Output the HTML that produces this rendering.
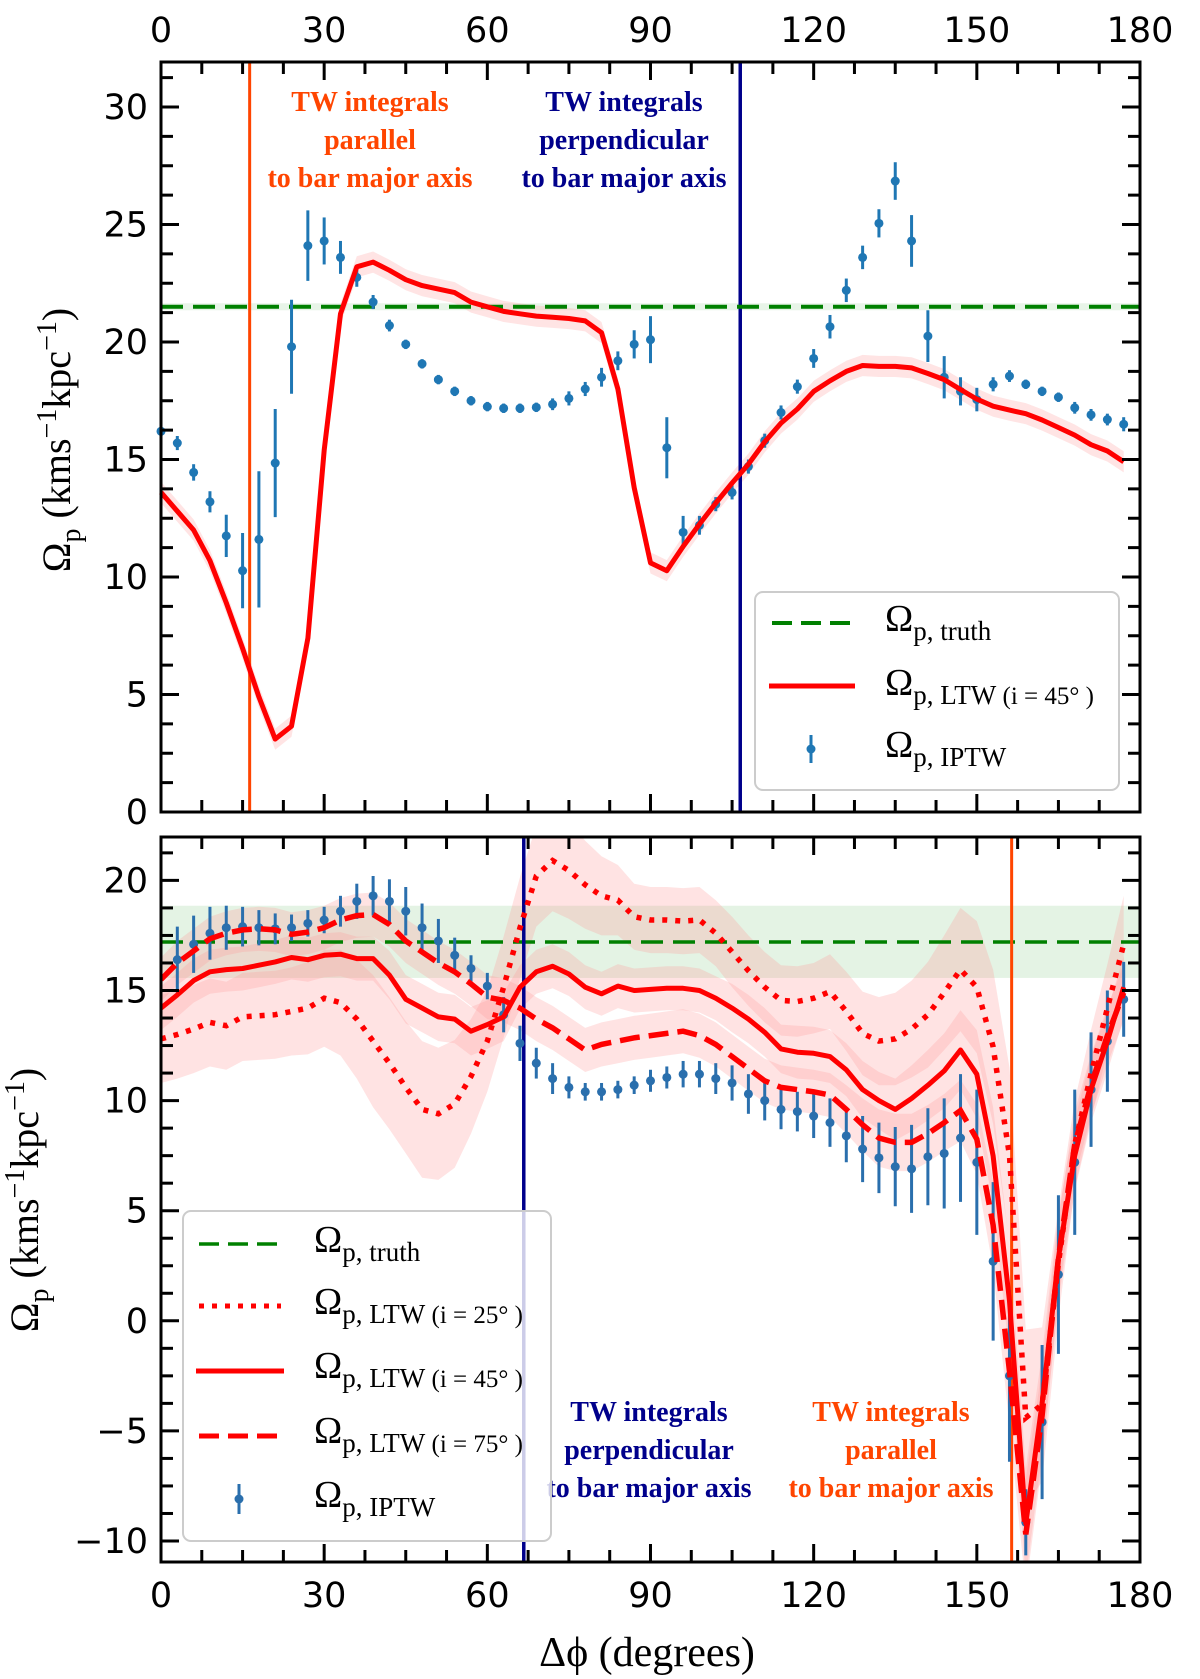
<!DOCTYPE html>
<html><head><meta charset="utf-8"><style>
html,body{margin:0;padding:0;background:#fff}
svg{display:block}
.tick{font-family:"DejaVu Sans","Liberation Sans",sans-serif;font-size:35px;fill:#000}
.serif{font-family:"Liberation Serif","DejaVu Serif",serif}
</style></head><body>
<svg id="fig" width="1200" height="1679" viewBox="0 0 1200 1679" xmlns="http://www.w3.org/2000/svg">
<defs>
<clipPath id="clipT"><rect x="156" y="62" width="984" height="750"/></clipPath>
<clipPath id="clipB"><rect x="161" y="837" width="979" height="725"/></clipPath>
</defs>
<g id="top"></g>
<g id="bot"></g>
</svg>
<script>
// ---------- data ----------
const phiTop = [0,3,6,9,12,15,18,21,24,27,30,33,36,39,42,45,48,51,54,57,60,63,66,69,72,75,78,81,84,87,90,93,96,99,102,105,108,111,114,117,120,123,126,129,132,135,138,141,144,147,150,153,156,159,162,165,168,171,174,177];
const iptwTop = [16.2,15.7,14.45,13.2,11.75,10.27,11.6,14.85,19.8,24.1,24.3,23.6,22.75,21.7,20.7,19.9,19.07,18.4,17.9,17.5,17.25,17.18,17.18,17.22,17.35,17.6,18.0,18.5,19.2,19.9,20.1,15.5,11.9,12.2,13.1,13.6,14.7,15.8,17.0,18.1,19.3,20.65,22.2,23.6,25.05,26.85,24.3,20.25,18.5,17.9,17.55,18.2,18.55,18.2,17.9,17.65,17.2,16.9,16.7,16.5];
const iptwTopErr = [0.2,0.3,0.35,0.45,0.9,1.6,2.9,2.3,2.0,1.5,1.0,0.7,0.4,0.3,0.25,0.2,0.2,0.2,0.2,0.2,0.2,0.2,0.2,0.2,0.25,0.3,0.3,0.4,0.4,0.6,1.0,1.3,0.7,0.4,0.3,0.3,0.3,0.3,0.3,0.3,0.4,0.5,0.5,0.5,0.6,0.8,1.1,1.1,0.9,0.6,0.5,0.3,0.25,0.2,0.2,0.2,0.25,0.25,0.25,0.3];
const ltwTop = [13.6,12.8,12.0,10.7,8.9,6.96,4.9,3.1,3.65,7.4,15.4,21.2,23.2,23.4,23.05,22.65,22.4,22.25,22.1,21.7,21.5,21.3,21.2,21.1,21.05,21.0,20.9,20.4,18.0,13.8,10.6,10.27,11.3,12.25,13.15,14.0,14.8,15.75,16.55,17.15,17.9,18.35,18.75,19.0,18.96,18.96,18.9,18.66,18.4,17.98,17.57,17.27,17.1,16.95,16.68,16.36,16.04,15.63,15.36,14.9];
const truthTop = 21.5;
const barParTop = 16.3, barPerpTop = 106.5;

const phiBot = phiTop;
const iptwBot = [null,16.4,17.1,17.6,17.85,17.9,17.85,17.8,17.85,18.05,18.2,18.6,19.05,19.3,19.05,18.6,17.85,17.25,16.6,16.0,15.2,13.9,12.6,11.7,11.0,10.6,10.4,10.4,10.5,10.7,10.9,11.05,11.2,11.2,11.0,10.8,10.3,10.0,9.6,9.5,9.3,9.0,8.4,7.8,7.4,7.0,6.9,7.45,7.6,8.3,7.2,2.7,-2.5,-9.15,-4.6,2.1,7.2,10.5,12.7,14.6];
const iptwBotErr = [0,1.5,1.3,1.2,1.0,0.9,0.8,0.7,0.6,0.6,0.6,0.7,0.8,0.9,1.0,1.1,1.1,1.0,0.8,0.6,0.6,0.8,0.8,0.7,0.7,0.5,0.4,0.4,0.4,0.4,0.5,0.5,0.6,0.6,0.7,0.8,0.9,0.9,0.9,0.9,1.0,1.1,1.2,1.5,1.6,1.8,2.0,2.2,2.5,2.9,3.3,3.6,3.9,1.5,3.5,3.6,3.3,2.6,2.3,1.7];
const ltw25 = [12.8,13.0,13.25,13.55,13.4,13.8,13.85,13.9,14.05,14.2,14.65,14.45,13.7,12.7,11.7,10.6,9.6,9.4,9.85,11.1,12.7,15.15,17.85,20.2,20.9,20.45,19.8,19.3,19.1,18.35,18.2,18.2,18.15,18.2,17.6,16.75,15.9,15.15,14.55,14.5,14.65,14.95,14.05,13.05,12.7,12.8,13.25,13.9,14.9,15.95,15.15,12.45,7.5,-4.4,-3.8,2.6,8.0,11.2,14.2,17.1];
const ltw25Err = [2.0,2.0,2.0,2.0,2.0,2.0,2.0,2.0,2.0,2.1,2.2,2.4,2.7,3.0,3.0,3.0,3.1,3.0,2.9,2.6,2.3,2.3,2.3,2.3,2.3,2.2,2.0,1.8,1.6,1.5,1.5,1.5,1.5,1.5,1.5,1.6,1.6,1.6,1.6,1.6,1.6,1.7,1.8,1.9,2.0,2.1,2.2,2.4,2.6,2.8,3.0,3.5,4.0,4.0,3.5,2.5,2.0,2.0,2.0,2.2];
const ltw45 = [14.2,14.8,15.45,15.85,15.95,16.0,16.15,16.3,16.5,16.4,16.6,16.65,16.45,16.45,15.7,14.6,14.2,13.8,13.7,13.15,13.45,13.8,15.15,15.85,16.1,15.75,15.15,14.85,15.2,15.0,15.05,15.1,15.1,15.0,14.65,14.2,13.7,13.1,12.35,12.2,12.15,12.0,11.4,10.5,10.0,9.6,10.1,10.7,11.35,12.3,11.2,7.5,0.9,-9.2,-3.75,2.85,7.5,10.5,12.7,15.15];
const ltw45Err = [1.0,1.0,1.0,1.0,1.0,1.0,1.0,1.0,1.0,1.0,1.0,1.0,1.0,1.0,1.1,1.1,1.1,1.1,1.1,1.1,1.1,1.1,1.0,1.0,1.0,1.0,1.0,1.0,1.0,1.0,1.0,1.0,1.0,1.0,1.0,1.1,1.1,1.1,1.1,1.2,1.2,1.2,1.2,1.3,1.3,1.4,1.5,1.6,1.7,1.8,2.0,2.2,2.5,2.5,2.3,2.0,1.6,1.5,1.4,1.4];
const ltw75 = [15.5,16.25,16.8,17.35,17.6,17.75,17.8,17.75,17.55,17.65,17.85,18.2,18.4,18.45,18.0,17.25,16.75,16.25,15.85,15.3,14.7,14.55,14.2,13.7,13.3,12.8,12.3,12.55,12.7,12.85,12.95,13.05,13.15,12.95,12.55,12.0,11.45,10.9,10.6,10.5,10.4,10.25,9.6,8.9,8.3,8.1,8.1,8.5,9.0,9.55,8.25,4.35,-2.3,-9.7,-4.3,2.85,8.0,10.7,12.95,14.9];
const ltw75Err = [1.0,1.0,1.0,1.0,1.0,1.0,1.0,1.0,1.0,1.0,1.0,1.0,1.0,1.0,1.0,1.0,1.0,1.0,1.0,1.0,1.0,1.0,1.0,1.0,1.0,1.0,1.0,1.0,1.0,1.0,1.0,1.0,1.0,1.0,1.0,1.0,1.0,1.0,1.0,1.0,1.0,1.0,1.1,1.2,1.3,1.3,1.3,1.3,1.3,1.4,1.6,2.0,2.5,2.5,2.2,1.8,1.5,1.4,1.3,1.3];
const truthBot = 17.2, truthBotLo = 15.57, truthBotHi = 18.85;
const barPerpBot = 66.7, barParBot = 156.4;
const xTicks = [0,30,60,90,120,150,180];
const yTicksTop = [0,5,10,15,20,25,30];
const yTicksBot = [-10,-5,0,5,10,15,20];

// ---------- axes ----------
const X0=161, X1=1140;
const xs = d => X0 + (d/180)*(X1-X0);
const T = {y0:812, ppu:23.5, top:62, bot:812, min:0, max:31.93};
const B = {y0:880.4, ppu:22.02, top:837, bot:1562, min:-10.95, max:22};
const yT = v => T.y0 - v*T.ppu;
const yB = v => B.y0 - (v-20)*B.ppu;
const NS='http://www.w3.org/2000/svg';
function el(tag, attrs, parent){const e=document.createElementNS(NS,tag);for(const k in attrs)e.setAttribute(k,attrs[k]);parent.appendChild(e);return e;}
function pathOf(xsArr, ys, fy){let d='';xsArr.forEach((x,i)=>{if(ys[i]===null)return;d+=(d?'L':'M')+xs(x).toFixed(1)+','+fy(ys[i]).toFixed(1);});return d;}
function bandOf(xsArr, ys, err, fy){let up='',dn=[];xsArr.forEach((x,i)=>{up+=(up?'L':'M')+xs(x).toFixed(1)+','+fy(ys[i]+err[i]).toFixed(1);dn.unshift('L'+xs(x).toFixed(1)+','+fy(ys[i]-err[i]).toFixed(1));});return up+dn.join('')+'Z';}

function frame(g, P, fy, yticks, labelTop, labelBottom){
  const r = el('rect',{x:X0,y:P.top,width:X1-X0,height:P.bot-P.top,fill:'none',stroke:'#000','stroke-width':3},g);
  
  
  for(let d=0; d<=180.01; d+=7.5){
    const maj = Math.abs(d%30)<0.01;
    const L = maj?18:12;
    el('line',{x1:xs(d),x2:xs(d),y1:P.top,y2:P.top+L,stroke:'#000','stroke-width':3},g);
    el('line',{x1:xs(d),x2:xs(d),y1:P.bot,y2:P.bot-L,stroke:'#000','stroke-width':3},g);
  }
  for(let v=Math.ceil(P.min/1.25)*1.25; v<=P.max; v+=1.25){
    const maj = Math.abs(v%5)<0.01;
    const L = maj?18:12;
    el('line',{x1:X0,x2:X0+L,y1:fy(v),y2:fy(v),stroke:'#000','stroke-width':3},g);
    el('line',{x1:X1,x2:X1-L,y1:fy(v),y2:fy(v),stroke:'#000','stroke-width':3},g);
  }
  yticks.forEach(v=>{
    const t = el('text',{x:148,y:fy(v)+12,'text-anchor':'end',class:'tick'},g);
    t.textContent = v<0 ? '\u2212'+Math.abs(v) : String(v);
    
    
  });
  xTicks.forEach(d=>{
    if(labelTop){
      const t = el('text',{x:xs(d),y:42,'text-anchor':'middle',class:'tick'},g);
      t.textContent=String(d);
      
      
    }
    if(labelBottom){
      const t = el('text',{x:xs(d),y:1607,'text-anchor':'middle',class:'tick'},g);
      t.textContent=String(d);
      
      
    }
  });
}

function errPoints(g, xsArr, ys, err, fy, color){
  xsArr.forEach((x,i)=>{
    if(ys[i]===null) return;
    const l = el('line',{x1:xs(x),x2:xs(x),y1:fy(ys[i]-err[i]),y2:fy(ys[i]+err[i]),stroke:color,'stroke-width':3},g);
    
    
    const c = el('circle',{cx:xs(x),cy:fy(ys[i]),r:4.5,fill:color},g);
    
    
  });
}

function textBlock(g, cx, ys, lines, color, name){
  const t = el('text',{'text-anchor':'middle',fill:color,class:'serif','font-size':28,'font-weight':'bold'},g);
  
  
  lines.forEach((s,i)=>{const ts=el('tspan',{x:cx,y:ys[i]},t);ts.textContent=s;});
}

function legendEntry(g, x, y, sub, paren){
  const t = el('text',{x:x,y:y+12,class:'serif','font-size':38,fill:'#000'},g);
  const a = el('tspan',{},t); a.textContent='Ω';
  const b = el('tspan',{'font-size':27,dy:9},t); b.textContent='p, '+sub;
  if(paren){const c=el('tspan',{'font-size':25},t); c.textContent=' (i = '+paren+'° )';}
  return t;
}

// ---------- top panel ----------
const gT = document.getElementById('top');
const gTc = el('g',{'clip-path':'url(#clipT)'},gT);
el('rect',{x:X0,y:yT(truthTop+0.15),width:X1-X0,height:0.3*T.ppu,fill:'#d8ecd8',opacity:0.6},gTc);
const bandT = el('path',{d:bandOf(phiTop,ltwTop,ltwTop.map(v=>0.45),yT),fill:'#ffb3b3',opacity:0.35},gTc);


const vpT = el('line',{x1:xs(barParTop),x2:xs(barParTop),y1:T.top,y2:T.bot,stroke:'#ff4500','stroke-width':3},gTc);


const vnT = el('line',{x1:xs(barPerpTop),x2:xs(barPerpTop),y1:T.top,y2:T.bot,stroke:'#00008b','stroke-width':3.5},gTc);


const trT = el('line',{x1:X0,x2:X1,y1:yT(truthTop),y2:yT(truthTop),stroke:'#008000','stroke-width':4,'stroke-dasharray':'22,10'},gTc);


errPoints(gTc, phiTop, iptwTop, iptwTopErr, yT, '#1f77b4');
const lT = el('path',{d:pathOf(phiTop,ltwTop,yT),fill:'none',stroke:'#ff0000','stroke-width':5,'stroke-linejoin':'round'},gTc);


frame(gT, T, yT, yTicksTop, true, false);
textBlock(gT, 370, [111,149,187], ['TW integrals','parallel','to bar major axis'], '#ff4500', 'parallel-annotation');
textBlock(gT, 624, [111,149,187], ['TW integrals','perpendicular','to bar major axis'], '#00008b', 'perpendicular-annotation');
// legend top
const lgT = el('g',{},gT);


el('rect',{x:755,y:592,width:364,height:198,rx:8,fill:'#fff','fill-opacity':0.85,stroke:'#ccc','stroke-width':2},lgT);
el('line',{x1:772,x2:852,y1:623,y2:623,stroke:'#008000','stroke-width':4,'stroke-dasharray':'20,9'},lgT);
el('line',{x1:769,x2:855,y1:686,y2:686,stroke:'#ff0000','stroke-width':5},lgT);
el('line',{x1:811,x2:811,y1:735,y2:763,stroke:'#1f77b4','stroke-width':3},lgT);
el('circle',{cx:811,cy:749,r:4.5,fill:'#1f77b4'},lgT);
legendEntry(lgT, 885, 619, 'truth');
legendEntry(lgT, 885, 683, 'LTW', '45');
legendEntry(lgT, 885, 745, 'IPTW');
const ylT = el('text',{x:0,y:0,transform:'translate(70,440) rotate(-90)','text-anchor':'middle',class:'serif','font-size':40},gT);


ylT.innerHTML='Ω<tspan font-size="28" dy="10">p</tspan><tspan dy="-10"> (kms</tspan><tspan font-size="28" dy="-14">−1</tspan><tspan dy="14">kpc</tspan><tspan font-size="28" dy="-14">−1</tspan><tspan dy="14">)</tspan>';

// ---------- bottom panel ----------
const gB = document.getElementById('bot');
const gBc = el('g',{'clip-path':'url(#clipB)'},gB);
const tb = el('rect',{x:X0,y:yB(truthBotHi),width:X1-X0,height:(truthBotHi-truthBotLo)*B.ppu,fill:'#d9eed9',opacity:0.7},gBc);


[[ltw25,ltw25Err,'ltw-25-band'],[ltw45,ltw45Err,'ltw-45-band'],[ltw75,ltw75Err,'ltw-75-band']].forEach(([s,e,n])=>{
  const p = el('path',{d:bandOf(phiBot,s,e,yB),fill:'#ff9a9a',opacity:0.28},gBc);
  
  
});
const trB = el('line',{x1:X0,x2:X1,y1:yB(truthBot),y2:yB(truthBot),stroke:'#008000','stroke-width':3.5,'stroke-dasharray':'22,10'},gBc);


const vpB = el('line',{x1:xs(barParBot),x2:xs(barParBot),y1:B.top,y2:B.bot,stroke:'#ff4500','stroke-width':3},gBc);


const vnB = el('line',{x1:xs(barPerpBot),x2:xs(barPerpBot),y1:B.top,y2:B.bot,stroke:'#00008b','stroke-width':3.5},gBc);


errPoints(gBc, phiBot, iptwBot, iptwBotErr, yB, '#2a6fad');
const l25 = el('path',{d:pathOf(phiBot,ltw25,yB),fill:'none',stroke:'#ff0000','stroke-width':5.5,'stroke-dasharray':'5,8'},gBc);


const l45 = el('path',{d:pathOf(phiBot,ltw45,yB),fill:'none',stroke:'#ff0000','stroke-width':5,'stroke-linejoin':'round'},gBc);


const l75 = el('path',{d:pathOf(phiBot,ltw75,yB),fill:'none',stroke:'#ff0000','stroke-width':5.5,'stroke-dasharray':'20,9'},gBc);


frame(gB, B, yB, yTicksBot, false, true);
textBlock(gB, 649, [1421,1459,1497], ['TW integrals','perpendicular','to bar major axis'], '#00008b', 'perpendicular-annotation');
textBlock(gB, 891, [1421,1459,1497], ['TW integrals','parallel','to bar major axis'], '#ff4500', 'parallel-annotation');
const lgB = el('g',{},gB);


el('rect',{x:183,y:1211,width:368,height:330,rx:8,fill:'#fff','fill-opacity':0.8,stroke:'#ccc','stroke-width':2},lgB);
el('line',{x1:199,x2:281,y1:1244,y2:1244,stroke:'#008000','stroke-width':3.5,'stroke-dasharray':'20,9'},lgB);
el('line',{x1:199,x2:281,y1:1306,y2:1306,stroke:'#ff0000','stroke-width':5,'stroke-dasharray':'5,8'},lgB);
el('line',{x1:196,x2:284,y1:1371,y2:1371,stroke:'#ff0000','stroke-width':5},lgB);
el('line',{x1:199,x2:281,y1:1436,y2:1436,stroke:'#ff0000','stroke-width':5,'stroke-dasharray':'20,9'},lgB);
el('line',{x1:239,x2:239,y1:1484,y2:1514,stroke:'#2a6fad','stroke-width':3},lgB);
el('circle',{cx:239,cy:1499,r:4.5,fill:'#2a6fad'},lgB);
legendEntry(lgB, 314, 1240, 'truth');
legendEntry(lgB, 314, 1302, 'LTW', '25');
legendEntry(lgB, 314, 1366, 'LTW', '45');
legendEntry(lgB, 314, 1431, 'LTW', '75');
legendEntry(lgB, 314, 1495, 'IPTW');
const ylB = el('text',{x:0,y:0,transform:'translate(38,1200) rotate(-90)','text-anchor':'middle',class:'serif','font-size':40},gB);


ylB.innerHTML='Ω<tspan font-size="28" dy="10">p</tspan><tspan dy="-10"> (kms</tspan><tspan font-size="28" dy="-14">−1</tspan><tspan dy="14">kpc</tspan><tspan font-size="28" dy="-14">−1</tspan><tspan dy="14">)</tspan>';
const xl = el('text',{x:647,y:1666,'text-anchor':'middle',class:'serif','font-size':42},gB);


xl.textContent='Δϕ (degrees)';
</script>
</body></html>
